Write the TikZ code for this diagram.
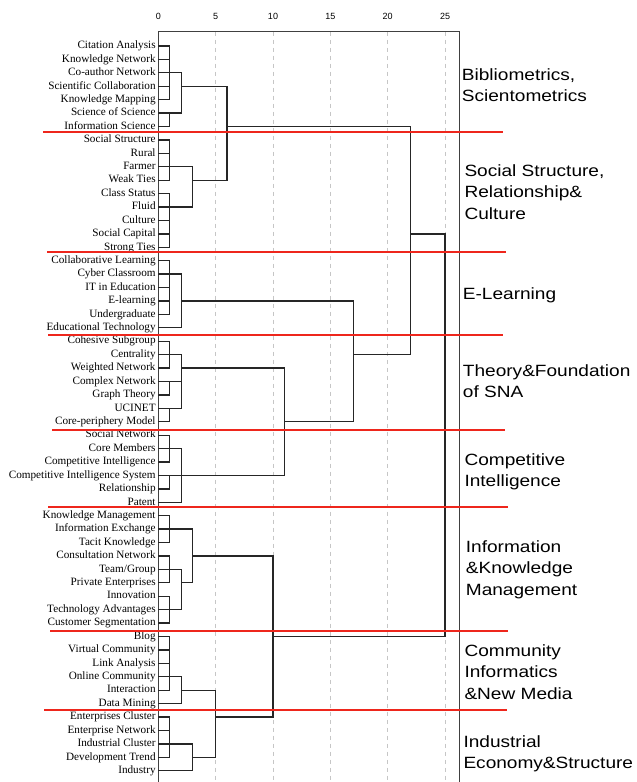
\documentclass[tikz,border=0pt]{standalone}
\usepackage{fontspec}
\setmainfont{Liberation Serif}
\newfontfamily\clusterfont[FakeStretch=1.17]{Liberation Sans}
\newfontfamily\tickfont{Liberation Sans}
\definecolor{cutred}{RGB}{238,38,28}
\begin{document}
\begin{tikzpicture}[x=1pt,y=-1pt,
    leaf/.style={anchor=east,inner xsep=2.5pt,inner ysep=0pt,font=\fontsize{11.2}{12}\selectfont,text height=1.5ex,text depth=.3ex},
    cluster/.style={anchor=base west,align=left,inner sep=0pt,font=\clusterfont\fontsize{16.3}{21.3}\selectfont},
    tick/.style={font=\tickfont\fontsize{9}{10}\selectfont},
    tree/.style={draw=black!85,line width=1.3pt},
    gridline/.style={gray!45,dash pattern=on 4pt off 4pt,line width=0.8pt},
    frame/.style={black!75,line width=0.9pt},
    cut/.style={draw=cutred,line width=2pt}
]
\useasboundingbox (0,0) rectangle (637,782);

% Leaves (one row every 13.42)
\foreach \n/\t [count=\i from 0] in {citation/Citation Analysis, knownet/Knowledge Network, coauthor/Co-author Network, scicollab/Scientific Collaboration, knowmap/Knowledge Mapping, sciofsci/Science of Science, infosci/Information Science}
  \node[leaf] (\n) at (158.3,{46+13.42*\i}) {\t};
\foreach \n/\t [count=\i from 7] in {socstruct/Social Structure, rural/Rural, farmer/Farmer, weakties/Weak Ties, classstatus/Class Status, fluid/Fluid, culture/Culture, soccapital/Social Capital, strongties/Strong Ties}
  \node[leaf] (\n) at (158.3,{46+13.42*\i}) {\t};
\foreach \n/\t [count=\i from 16] in {collab/Collaborative Learning, cyberclass/Cyber Classroom, itedu/IT in Education, elearn/E-learning, undergrad/Undergraduate, edutech/Educational Technology}
  \node[leaf] (\n) at (158.3,{46+13.42*\i}) {\t};
\foreach \n/\t [count=\i from 22] in {cohesive/Cohesive Subgroup, centrality/Centrality, weighted/Weighted Network, complex/Complex Network, graphth/Graph Theory, ucinet/UCINET, coreper/Core-periphery Model}
  \node[leaf] (\n) at (158.3,{46+13.42*\i}) {\t};
\foreach \n/\t [count=\i from 29] in {socnet/Social Network, coremem/Core Members, compint/Competitive Intelligence, cis/Competitive Intelligence System, relation/Relationship, patent/Patent}
  \node[leaf] (\n) at (158.3,{46+13.42*\i}) {\t};
\foreach \n/\t [count=\i from 35] in {knowmgmt/Knowledge Management, infoexch/Information Exchange, tacit/Tacit Knowledge, consult/Consultation Network, team/{Team/Group}, private/Private Enterprises, innov/Innovation, techadv/Technology Advantages, custseg/Customer Segmentation}
  \node[leaf] (\n) at (158.3,{46+13.42*\i}) {\t};
\foreach \n/\t [count=\i from 44] in {blog/Blog, virtcomm/Virtual Community, linkana/Link Analysis, onlinecomm/Online Community, interact/Interaction, datamine/Data Mining}
  \node[leaf] (\n) at (158.3,{46+13.42*\i}) {\t};
\foreach \n/\t [count=\i from 50] in {entcluster/Enterprises Cluster, entnet/Enterprise Network, indcluster/Industrial Cluster, devtrend/Development Trend, industry/Industry}
  \node[leaf] (\n) at (158.3,{46+13.42*\i}) {\t};

% Dendrogram, x in distance units
\begin{scope}[xshift=158.3pt,x=11.47pt]
% grid and frame
\draw[gridline] (5,31.7) -- (5,782) (10,31.7) -- (10,782) (15,31.7) -- (15,782) (20,31.7) -- (20,782) (25,31.7) -- (25,782);
\draw[frame] (0,782) -- (0,31.7) -- (26.24,31.7) -- (26.24,782);
\node[tick] (t0) at (0,16) {0};
\node[tick] (t5) at (5,16) {5};
\node[tick] (t10) at (10,16) {10};
\node[tick] (t15) at (15,16) {15};
\node[tick] (t20) at (20,16) {20};
\node[tick] (t25) at (25,16) {25};

% Bibliometrics
\coordinate (a1) at (1,0 |- coauthor);
\coordinate (a2) at (1,0 |- sciofsci);
\coordinate (a3) at (2,0 |- scicollab);
\draw[tree] (citation.east) -| (a1) (knownet.east) -| (a1) (coauthor.east) -| (a1) (scicollab.east) -| (a1) (knowmap.east) -| (a1);
\draw[tree] (sciofsci.east) -| (a2) (infosci.east) -| (a2);
\draw[tree] (a1) -| (a3) (a2) -| (a3);

% Social structure
\coordinate (b1) at (1,0 |- farmer);
\coordinate (b2) at (1,0 |- fluid);
\coordinate (b3) at (3,0 |- weakties);
\coordinate (c6) at (6,0 |- infosci);
\draw[tree] (socstruct.east) -| (b1) (rural.east) -| (b1) (farmer.east) -| (b1) (weakties.east) -| (b1);
\draw[tree] (classstatus.east) -| (b2) (fluid.east) -| (b2) (culture.east) -| (b2) (soccapital.east) -| (b2) (strongties.east) -| (b2);
\draw[tree] (b1) -| (b3) (b2) -| (b3);
\draw[tree] (a3) -| (c6) (b3) -| (c6);

% E-learning
\coordinate (e1) at (1,0 |- cyberclass);
\coordinate (e2) at (2,0 |- elearn);
\draw[tree] (collab.east) -| (e1) (cyberclass.east) -| (e1) (itedu.east) -| (e1) (elearn.east) -| (e1) (undergrad.east) -| (e1);
\draw[tree] (e1) -| (e2) (edutech.east) -| (e2);

% Theory of SNA
\coordinate (t1) at (1,0 |- centrality);
\coordinate (t2) at (1,0 |- complex);
\coordinate (t3) at (1,0 |- ucinet);
\coordinate (t4) at (2,0 |- weighted);
\draw[tree] (cohesive.east) -| (t1) (centrality.east) -| (t1) (weighted.east) -| (t1);
\draw[tree] (complex.east) -| (t2) (graphth.east) -| (t2);
\draw[tree] (ucinet.east) -| (t3) (coreper.east) -| (t3);
\draw[tree] (t1) -| (t4) (t2) -| (t4) (t3) -| (t4);

% Competitive intelligence
\coordinate (p1) at (1,0 |- coremem);
\coordinate (p2) at (1,0 |- cis);
\coordinate (p3) at (2,0 |- cis);
\draw[tree] (socnet.east) -| (p1) (coremem.east) -| (p1) (compint.east) -| (p1);
\draw[tree] (cis.east) -| (p2) (relation.east) -| (p2);
\draw[tree] (p1) -| (p3) (p2) -| (p3) (patent.east) -| (p3);

% upper joins
\coordinate (q11) at (11,0 |- coreper);
\coordinate (q17) at (17,0 |- centrality);
\coordinate (q22) at (22,0 |- soccapital);
\draw[tree] (t4) -| (q11) (p3) -| (q11);
\draw[tree] (e2) -| (q17) (q11) -| (q17);
\draw[tree] (c6) -| (q22) (q17) -| (q22);

% Knowledge management
\coordinate (k1) at (1,0 |- infoexch);
\coordinate (k2) at (1,0 |- team);
\coordinate (k3) at (1,0 |- techadv);
\coordinate (k4) at (2,0 |- private);
\coordinate (k5) at (3,0 |- consult);
\draw[tree] (knowmgmt.east) -| (k1) (infoexch.east) -| (k1) (tacit.east) -| (k1);
\draw[tree] (consult.east) -| (k2) (team.east) -| (k2) (private.east) -| (k2);
\draw[tree] (innov.east) -| (k3) (techadv.east) -| (k3) (custseg.east) -| (k3);
\draw[tree] (k2) -| (k4) (k3) -| (k4);
\draw[tree] (k1) -| (k5) (k4) -| (k5);

% Community and industry
\coordinate (n1) at (1,0 |- onlinecomm);
\coordinate (n2) at (2,0 |- interact);
\coordinate (s1) at (1,0 |- indcluster);
\coordinate (s2) at (3,0 |- devtrend);
\coordinate (s3) at (5,0 |- entcluster);
\coordinate (r10) at (10,0 |- blog);
\draw[tree] (blog.east) -| (n1) (virtcomm.east) -| (n1) (linkana.east) -| (n1) (onlinecomm.east) -| (n1) (interact.east) -| (n1);
\draw[tree] (n1) -| (n2) (datamine.east) -| (n2);
\draw[tree] (entcluster.east) -| (s1) (entnet.east) -| (s1) (indcluster.east) -| (s1) (devtrend.east) -| (s1);
\draw[tree] (s1) -| (s2) (industry.east) -| (s2);
\draw[tree] (n2) -| (s3) (s2) -| (s3);
\draw[tree] (k5) -| (r10) (s3) -| (r10);

% Root
\coordinate (root) at (25,0 |- coremem);
\draw[tree] (q22) -| (root) (r10) -| (root);
\end{scope}

% Cluster names (anchored at the last line)
\node[cluster] (bib) at (461.7,101.3) {Bibliometrics,\\Scientometrics};
\node[cluster] (social) at (464.3,219.1) {Social Structure,\\Relationship\&\\Culture};
\node[cluster] (elearning) at (462.7,299) {E-Learning};
\node[cluster] (theory) at (462.7,397.8) {Theory\&Foundation\\of SNA};
\node[cluster] (compet) at (464.3,486.3) {Competitive\\Intelligence};
\node[cluster] (infoknow) at (465.7,595.1) {Information\\\&Knowledge\\Management};
\node[cluster] (community) at (464.3,699.1) {Community\\Informatics\\\&New Media};
\node[cluster] (industrial) at (463.3,768.3) {Industrial\\Economy\&Structure};

% Cut lines
\draw[cut] (43,132.3) -- (503,132.3);
\draw[cut] (47,251.7) -- (506,251.7);
\draw[cut] (48,335) -- (503,335);
\draw[cut] (52,430) -- (505,430);
\draw[cut] (48,507.3) -- (508,507.3);
\draw[cut] (50,630.7) -- (508,630.7);
\draw[cut] (44,710.3) -- (507,710.3);

\end{tikzpicture}
\end{document}
